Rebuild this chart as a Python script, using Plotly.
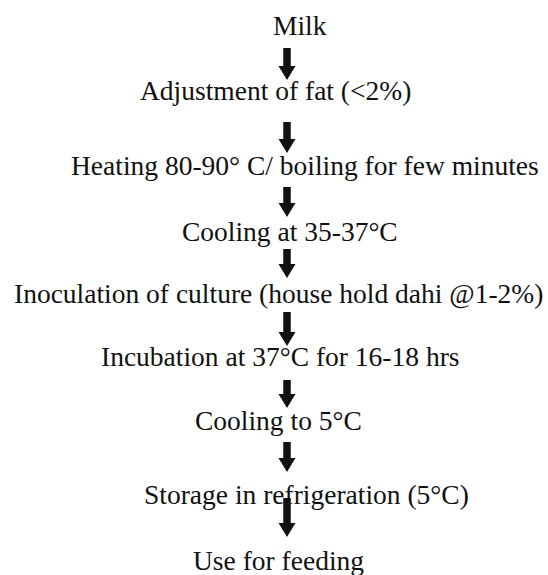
import plotly.graph_objects as go

# Flow-chart content
steps = [
    "Milk",
    "Adjustment of fat (<2%)",
    "Heating 80-90° C/ boiling for few minutes",
    "Cooling at 35-37°C",
    "Inoculation of culture (house hold dahi @1-2%)",
    "Incubation at 37°C for 16-18 hrs",
    "Cooling to 5°C",
    "Storage in refrigeration (5°C)",
    "Use for feeding",
]

# Layout (pixel-space positions on a 548x575 canvas)
W, H = 548, 575
text_cx = [300, 275, 305, 290, 278, 280, 278, 306, 278]
text_cy = [25, 90, 165, 231, 293, 356, 420, 494, 560]
arrow_x = 287
arrow_top = [48, 122, 187, 249, 312, 380, 442, 498]
arrow_bot = [80, 153, 217, 278, 346, 408, 472, 537]

FONT = "Liberation Serif, Times New Roman, serif"
INK = "#111111"

fig = go.Figure()
fig.add_trace(go.Scatter(x=[0, W], y=[0, H], mode="markers",
                         marker=dict(opacity=0), hoverinfo="skip",
                         showlegend=False))

for s, cx, cy in zip(steps, text_cx, text_cy):
    fig.add_annotation(x=cx, y=cy, text=s, showarrow=False,
                       xanchor="center", yanchor="middle",
                       font=dict(family=FONT, size=27.5, color=INK))

shaft_w = 7.5
head_w = 17
head_h = 14
for t, b in zip(arrow_top, arrow_bot):
    hb = b - head_h
    fig.add_shape(type="rect", x0=arrow_x - shaft_w / 2, x1=arrow_x + shaft_w / 2,
                  y0=t, y1=hb + 1, fillcolor=INK, line=dict(width=0))
    path = (f"M {arrow_x - head_w / 2},{hb} L {arrow_x + head_w / 2},{hb} "
            f"L {arrow_x},{b} Z")
    fig.add_shape(type="path", path=path, fillcolor=INK, line=dict(width=0))

fig.update_xaxes(range=[0, W], visible=False, fixedrange=True)
fig.update_yaxes(range=[H, 0], visible=False, fixedrange=True)
fig.update_layout(width=W, height=H, margin=dict(l=0, r=0, t=0, b=0),
                  plot_bgcolor="white", paper_bgcolor="white",
                  showlegend=False)

fig.write_html("out.html", config={"displayModeBar": False},
               post_script="document.body.style.margin='0';"
                           "document.body.style.overflow='hidden';")
